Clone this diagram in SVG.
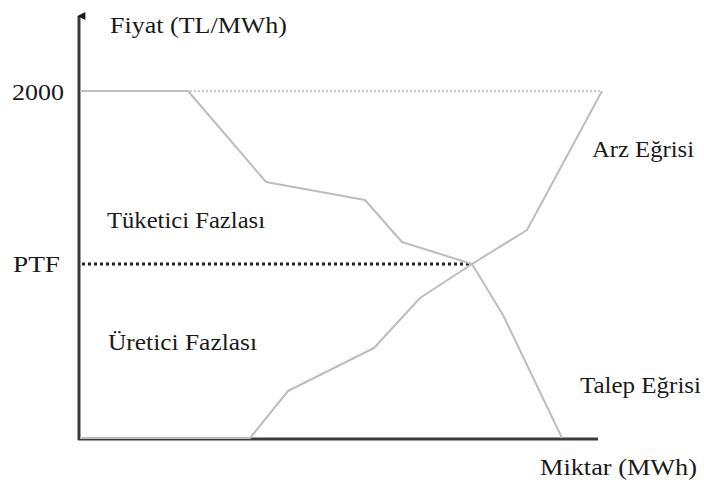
<svg xmlns="http://www.w3.org/2000/svg" width="704" height="488" viewBox="0 0 704 488">
<style>
text{font-family:'Liberation Serif','DejaVu Serif','Times New Roman',Times,serif;font-size:24px;fill:#1a1a1a}
.curve{fill:none;stroke:#bdbdbd;stroke-width:2;stroke-linejoin:round}
.axis{fill:none;stroke:#3a3a3a;stroke-width:3}
</style>
<defs>
<marker id="arr" viewBox="0 0 10 10" refX="5" refY="2" markerWidth="8" markerHeight="10" markerUnits="userSpaceOnUse" orient="auto-start-reverse">
<path d="M0,10 L5,0 L10,10 Z" fill="#1a1a1a"/>
</marker>
</defs>
<rect width="704" height="488" fill="#ffffff"/>
<g id="axes">
<line class="axis" x1="79" y1="440" x2="79" y2="16" marker-end="url(#arr)"/>
<line class="axis" x1="78" y1="439" x2="598" y2="439"/>
</g>
<g id="connectors">
<line x1="190" y1="91" x2="601" y2="91" stroke="#c8c8c8" stroke-width="2" stroke-dasharray="2,2"/>
<line x1="82" y1="264" x2="472" y2="264" stroke="#222" stroke-width="3" stroke-dasharray="3,3"/>
</g>
<g id="demand">
<polyline class="curve" points="80,91 188,91 266,182 365,200 402,242 472,264 503,315 562,438"/>
</g>
<g id="supply">
<polyline class="curve" points="80,438 250,438 288,391 374,348 420,298 472,264 527,230 602,91"/>
</g>
<g id="labels">
<text x="110" y="33" textLength="177" lengthAdjust="spacingAndGlyphs">Fiyat (TL/MWh)</text>
<text x="12" y="100" textLength="52" lengthAdjust="spacingAndGlyphs">2000</text>
<text x="13" y="272" textLength="47" lengthAdjust="spacingAndGlyphs">PTF</text>
<text x="107" y="228" textLength="158" lengthAdjust="spacingAndGlyphs">Tüketici Fazlası</text>
<text x="108" y="350" textLength="149" lengthAdjust="spacingAndGlyphs">Üretici Fazlası</text>
<text x="592" y="157" textLength="102" lengthAdjust="spacingAndGlyphs">Arz Eğrisi</text>
<text x="580" y="393" textLength="121" lengthAdjust="spacingAndGlyphs">Talep Eğrisi</text>
<text x="540" y="475" textLength="157" lengthAdjust="spacingAndGlyphs">Miktar (MWh)</text>
</g>
</svg>
